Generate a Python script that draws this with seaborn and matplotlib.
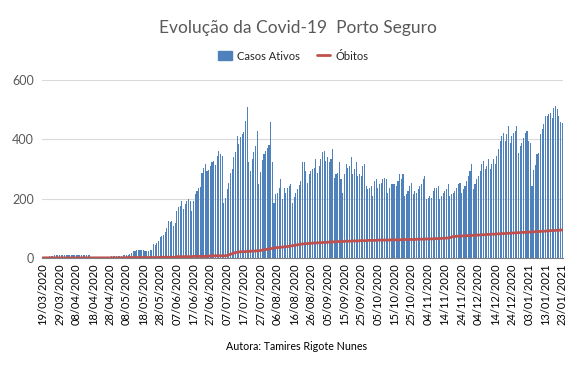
import matplotlib
matplotlib.use("Agg")
import matplotlib.pyplot as plt
import matplotlib.patches as mpatches
from matplotlib.lines import Line2D
import numpy as np
import pandas as pd
import seaborn as sns

inicio = "2020-03-19"

# casos ativos por dia
casos_ativos = [
    1, 2, 3, 4, 5, 6, 6, 8, 9, 9,
    10, 10, 11, 10, 10, 11, 11, 10, 10, 11,
    11, 10, 10, 11, 10, 10, 9, 9, 9,
    0, 0, 0, 0, 0, 0, 0, 0, 0,
    3, 4, 4, 5, 5, 6, 6, 5, 7, 7, 8, 8, 9, 10, 12,
    16, 22, 24, 27, 27, 25, 25, 25, 24, 24, 24, 27, 25,
    47, 44, 50, 56, 70, 75, 78, 86, 100, 124,
    120, 124, 109, 116, 158, 173, 175, 192, 164, 181,
    192, 200, 191, 159, 192,
    215, 226, 237, 240, 288, 305, 316, 294, 297, 311,
    322, 328, 313, 345, 362, 350, 345, 186, 203, 232,
    254, 288, 299, 339, 356, 412, 384, 407, 418, 424,
    463, 508, 322, 294, 333, 356, 379, 429,
    250, 290, 330, 350, 362, 370, 380, 458,
    322, 186, 215, 220, 237, 266, 198, 237, 220, 237,
    243, 250, 186, 205, 220, 232, 245, 260, 322, 322,
    294, 254, 282, 294, 299, 305, 333, 288,
    311, 333, 356, 362, 328, 339, 322, 333, 369, 271,
    282, 288, 322, 266, 220, 282, 316, 305, 311, 339,
    282, 299, 322, 277, 282, 277, 311, 316, 243, 232,
    237, 243, 209, 260, 266, 237,
    249, 254, 266, 271, 266, 220, 237, 249, 249, 249,
    243, 260, 282, 266, 282, 209, 215, 226, 243, 254,
    215, 226, 220, 232, 243, 249, 266, 277, 198, 203,
    209, 203, 226, 237, 237, 243,
    198, 209, 220, 226, 232, 249, 209, 215, 220, 226,
    237, 249, 254, 220, 232, 243, 260, 277, 294, 316,
    232, 249, 266, 277, 294, 316, 328, 299, 311, 333,
    299, 316, 333, 316, 345, 367,
    394, 411, 423, 394, 417, 445, 389, 411, 423, 428,
    445, 355, 377, 389, 406, 423, 428, 394, 389, 242,
    298, 315, 349, 355, 417, 434, 451, 479, 479, 485,
    490, 473, 507, 513, 502, 479, 457, 455,
]

# obitos acumulados
obitos = [
    0, 0, 0, 0, 0, 0, 0, 0, 0, 0, 0, 0, 0, 0, 0, 0, 0, 0, 0, 0,
    0, 0, 0, 0, 0, 0, 0, 0, 0, 0, 0, 0, 0, 0, 0, 0, 0, 0, 0, 0,
    0, 0, 0, 0, 0, 0, 0, 0, 0, 0,
    1, 1, 1, 1, 1, 1, 1, 1, 1, 1, 1, 1, 1, 1, 1, 1, 1, 1, 1, 1,
    2, 2, 2, 2, 2, 2, 2, 2, 2, 2,
    4, 4, 4, 4, 4, 4, 4, 4, 4, 4,
    5, 5, 5, 5, 5, 5, 5, 5, 5, 5,
    7, 7, 7, 7, 7, 7, 7, 7, 7, 7,
    8, 10, 12, 14, 16, 18, 19,
    20, 20, 21, 21, 21, 22, 22, 22, 23,
    23, 23, 24, 24, 25, 26, 27, 28, 29, 30,
    31, 32, 33, 34, 35, 35, 36, 36, 37, 38,
    38, 39, 40, 41, 42, 43, 44, 45, 46, 47,
    47, 48, 48, 49, 49, 50, 50, 50, 51, 51,
    51, 52, 52, 52, 53, 53, 53, 54, 54, 54,
    55, 55, 55, 55, 56, 56, 56, 56, 57, 57,
    57, 57, 57, 58, 58, 58, 58, 58, 59, 59,
    59, 59, 59, 59, 60, 60, 60, 60, 60, 60,
    60, 60, 61, 61, 61, 61, 61, 61, 61, 62,
    62, 62, 62, 62, 62, 62, 62, 63, 63, 63,
    63, 63, 63, 64, 64, 64, 64, 64, 65, 65,
    65, 65, 66, 66, 66, 67, 67, 68, 70, 72,
    72, 73, 73, 73, 74, 74, 74, 75, 75, 75,
    76, 76, 76, 77, 77, 77, 78, 78, 78, 79,
    79, 79, 80, 80, 80, 81, 81, 81, 82, 82,
    82, 83, 83, 83, 84, 84, 84, 85, 85, 85,
    86, 86, 86, 87, 87, 87, 88, 88, 88, 89,
    89, 89, 90, 90, 90, 91, 91, 92, 92, 92,
    93, 93, 93, 94, 94,
]

y_ticks = [0, 200, 400, 600]

n = len(casos_ativos)
datas = pd.date_range(inicio, periods=n).strftime("%d/%m/%Y")
df = pd.DataFrame({"dia": np.arange(n), "casos": casos_ativos, "obitos": obitos})

sns.set_theme(style="white")
plt.rcParams["font.family"] = ["Lato", "DejaVu Sans"]

azul = "#4F81BD"
vermelho = "#C0504D"
cinza = "#595959"

fig = plt.figure(figsize=(5.81, 3.71), dpi=100)
ax = fig.add_axes([0.0723, 0.305, 0.8967, 0.479])

ax.yaxis.grid(True, color="#d9d9d9", lw=0.8)
ax.set_axisbelow(True)

sns.barplot(data=df, x="dia", y="casos", native_scale=True, color=azul,
            saturation=1, width=0.65, linewidth=0, errorbar=None, ax=ax)
sns.lineplot(data=df, x="dia", y="obitos", color=vermelho, lw=2, ax=ax)

ax.set_xlim(-0.5, n - 0.5)
ax.set_ylim(0, 600)
ax.set_yticks(y_ticks)
ax.set_xticks(df["dia"][::10])
ax.set_xticklabels(datas[::10], rotation=90, fontsize=8, color="black")
ax.tick_params(axis="y", labelsize=9, labelcolor=cinza, length=0, pad=6)
ax.tick_params(axis="x", length=0, pad=4)
ax.set_xlabel("")
ax.set_ylabel("")

for s in ["top", "right", "left"]:
    ax.spines[s].set_visible(False)
ax.spines["bottom"].set_color("#7f7f7f")
ax.spines["bottom"].set_linewidth(0.8)

fig.text(0.513, 0.925, "Evolução da Covid-19  Porto Seguro", ha="center",
         va="center", fontsize=12.5, color=cinza)

handles = [mpatches.Patch(color=azul, label="Casos Ativos"),
           Line2D([0], [0], color=vermelho, lw=2, label="Óbitos")]
fig.legend(handles=handles, loc="center", bbox_to_anchor=(0.505, 0.849), ncol=2,
           frameon=False, fontsize=8, handlelength=1.2, handleheight=0.8,
           columnspacing=1.5, handletextpad=0.5)

fig.text(0.51, 0.067, "Autora: Tamires Rigote Nunes", ha="center",
         va="center", fontsize=7.7, color="black")

fig.savefig("out.png", dpi=100)
